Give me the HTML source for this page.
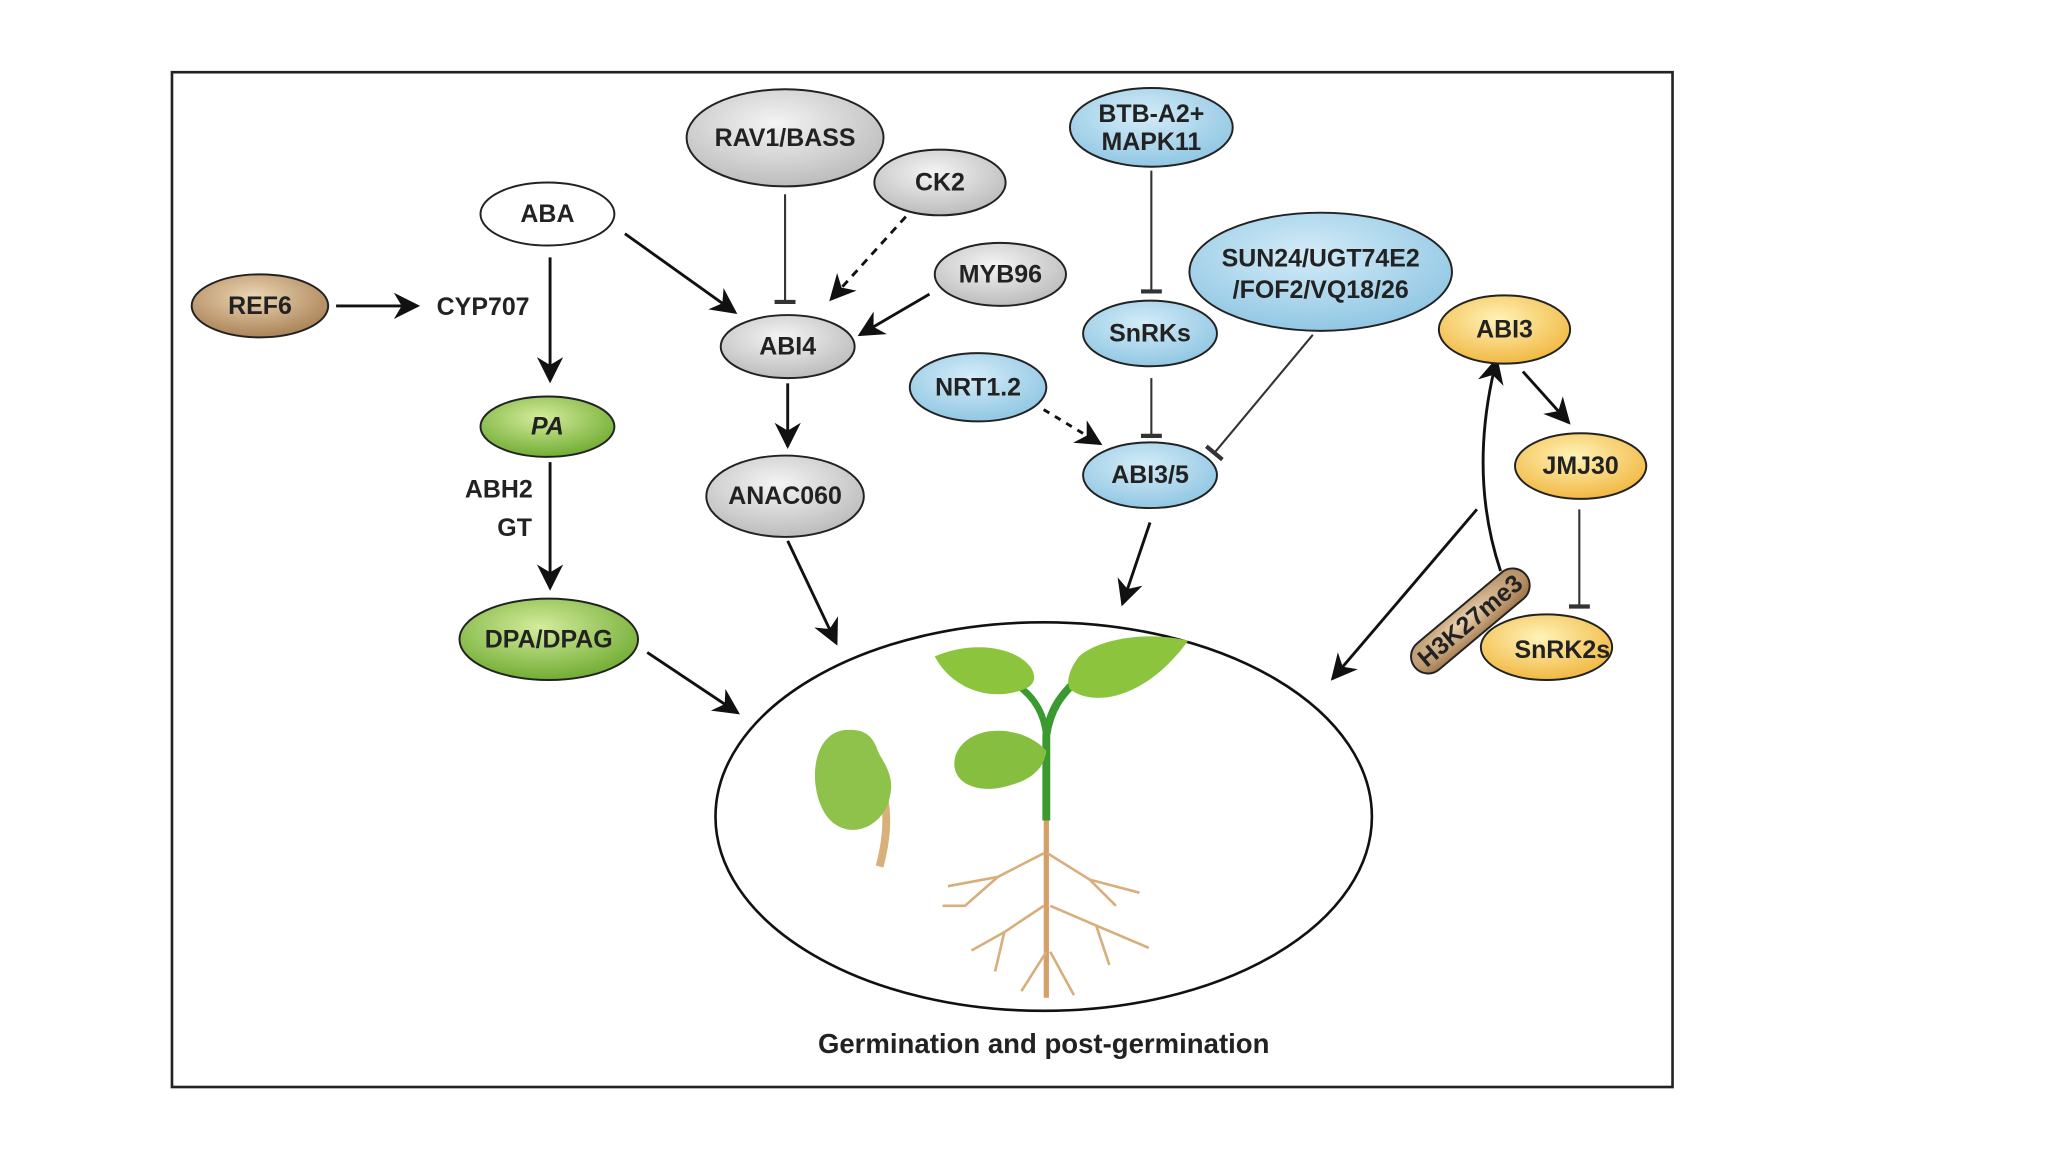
<!DOCTYPE html>
<html><head><meta charset="utf-8"><style>
html,body{margin:0;padding:0;background:#fff;}
svg{display:block;}
text{font-family:"Liberation Sans",sans-serif;font-weight:bold;fill:#222;text-anchor:middle;dominant-baseline:central;}
</style></head><body>
<svg width="2048" height="1152" viewBox="0 0 1560 877.5" preserveAspectRatio="none" xmlns="http://www.w3.org/2000/svg">
<defs>
<radialGradient id="gr" cx="45%" cy="35%" r="70%"><stop offset="0" stop-color="#f4f4f4"/><stop offset="1" stop-color="#b8b8b8"/></radialGradient>
<radialGradient id="bl" cx="45%" cy="35%" r="70%"><stop offset="0" stop-color="#d4ecf8"/><stop offset="1" stop-color="#8cc4e2"/></radialGradient>
<radialGradient id="gn" cx="45%" cy="35%" r="70%"><stop offset="0" stop-color="#d4ec9c"/><stop offset="1" stop-color="#6aa82c"/></radialGradient>
<radialGradient id="yl" cx="45%" cy="35%" r="70%"><stop offset="0" stop-color="#fff3b8"/><stop offset="1" stop-color="#f0b43a"/></radialGradient>
<radialGradient id="br" cx="45%" cy="35%" r="70%"><stop offset="0" stop-color="#ecd6b4"/><stop offset="1" stop-color="#a67c50"/></radialGradient>
<marker id="ah" viewBox="0 0 10 10" refX="9" refY="5" markerWidth="22" markerHeight="20" orient="auto" markerUnits="userSpaceOnUse"><path d="M0,0L10,5L0,10L3,5z" fill="#111"/></marker>
<marker id="tb" viewBox="0 0 4 20" refX="2" refY="10" markerWidth="4" markerHeight="16" orient="auto" markerUnits="userSpaceOnUse"><rect x="0" y="0" width="4" height="20" fill="#333"/></marker>
</defs>
<rect x="131" y="55" width="1143" height="773" fill="#fff" stroke="#222" stroke-width="2"/>

<g stroke="#111" stroke-width="2.2" fill="none">
<line x1="256" y1="233" x2="318" y2="233" marker-end="url(#ah)"/>
<line x1="419" y1="196" x2="419" y2="290" marker-end="url(#ah)"/>
<line x1="476" y1="178" x2="560" y2="238" marker-end="url(#ah)"/>
<line x1="690" y1="165" x2="633" y2="228" stroke-dasharray="6,5" marker-end="url(#ah)"/>
<line x1="708" y1="224" x2="655" y2="255" marker-end="url(#ah)"/>
<line x1="600" y1="292" x2="600" y2="340" marker-end="url(#ah)"/>
<line x1="419" y1="352" x2="419" y2="448" marker-end="url(#ah)"/>
<line x1="600" y1="412" x2="637" y2="490" marker-end="url(#ah)"/>
<line x1="493" y1="497" x2="562" y2="543" marker-end="url(#ah)"/>
<line x1="795" y1="312" x2="838" y2="338" stroke-dasharray="5,5" marker-end="url(#ah)"/>
<line x1="876" y1="398" x2="855" y2="460" marker-end="url(#ah)"/>
<path d="M1143,435 Q1118,360 1140,274" marker-end="url(#ah)"/>
<line x1="1160" y1="283" x2="1195" y2="322" marker-end="url(#ah)"/>
<line x1="1125" y1="388" x2="1015" y2="517" marker-end="url(#ah)"/>
</g>
<g stroke="#333" stroke-width="1.6" fill="none">
<line x1="598" y1="148" x2="598" y2="230" marker-end="url(#tb)"/>
<line x1="877" y1="130" x2="877" y2="222" marker-end="url(#tb)"/>
<line x1="877" y1="288" x2="877" y2="332" marker-end="url(#tb)"/>
<line x1="1000" y1="255" x2="925" y2="345" marker-end="url(#tb)"/>
<line x1="1203" y1="388" x2="1203" y2="462" marker-end="url(#tb)"/>
</g>

<g stroke="#222" stroke-width="1.5">
<ellipse cx="598" cy="105" rx="75" ry="37" fill="url(#gr)"/>
<ellipse cx="716" cy="139" rx="50" ry="25" fill="url(#gr)"/>
<ellipse cx="417" cy="163" rx="51" ry="24" fill="#fff"/>
<ellipse cx="198" cy="233" rx="52" ry="24" fill="url(#br)"/>
<ellipse cx="762" cy="209" rx="50" ry="24" fill="url(#gr)"/>
<ellipse cx="600" cy="264" rx="51" ry="24" fill="url(#gr)"/>
<ellipse cx="417" cy="325" rx="51" ry="23" fill="url(#gn)"/>
<ellipse cx="598" cy="378" rx="60" ry="31" fill="url(#gr)"/>
<ellipse cx="418" cy="487" rx="68" ry="31" fill="url(#gn)"/>
<ellipse cx="877" cy="97" rx="62" ry="30" fill="url(#bl)"/>
<ellipse cx="1006" cy="207" rx="100" ry="45" fill="url(#bl)"/>
<ellipse cx="876" cy="254" rx="51" ry="25" fill="url(#bl)"/>
<ellipse cx="745" cy="295" rx="52" ry="26" fill="url(#bl)"/>
<ellipse cx="876" cy="362" rx="51" ry="25" fill="url(#bl)"/>
<ellipse cx="1146" cy="251" rx="50" ry="26" fill="url(#yl)"/>
<ellipse cx="1204" cy="355" rx="50" ry="25" fill="url(#yl)"/>
<ellipse cx="1178" cy="493" rx="50" ry="25" fill="url(#yl)"/>
<rect x="1065" y="460" width="110" height="26" rx="13" fill="url(#br)" transform="rotate(-40 1120 473)"/>
<ellipse cx="795" cy="622" rx="250" ry="148" fill="#fff" stroke="#111" stroke-width="2"/>
</g>

<!-- plant -->
<g>
<path d="M668,588 C676,610 678,630 670,660" stroke="#d8b07a" stroke-width="6" fill="none"/>
<path d="M648,556 C618,554 614,600 630,622 C646,642 674,630 678,606 C682,588 670,578 668,570 C664,560 658,556 648,556z" fill="#8fc24a"/>
<path d="M797,620 L797,760" stroke="#d4a06a" stroke-width="4" fill="none"/>
<g stroke="#d8ae7c" stroke-width="2" fill="none">
<path d="M795,650 L760,668 L722,675"/><path d="M760,668 L735,690 L718,690"/><path d="M798,650 L830,670 L868,680"/><path d="M830,670 L850,690"/>
<path d="M795,690 L765,710 L740,724"/><path d="M765,710 L758,740"/><path d="M800,690 L835,705 L875,722"/><path d="M835,705 L845,735"/>
<path d="M797,725 L778,755"/><path d="M800,725 L818,758"/>
</g>
<path d="M797,625 L797,560 C800,540 808,530 820,518" stroke="#3a9a30" stroke-width="6" fill="none"/>
<path d="M797,560 C795,540 785,528 772,520" stroke="#3a9a30" stroke-width="5" fill="none"/>
<path d="M780,525 C755,535 725,525 712,500 C740,488 772,492 785,508 C790,516 788,522 780,525z" fill="#8cc43e"/>
<path d="M815,525 C835,540 875,530 905,488 C870,480 835,488 822,500 C814,510 812,520 815,525z" fill="#8cc43e"/>
<path d="M797,572 C780,552 738,550 728,575 C722,595 742,604 762,600 C782,596 795,588 797,572z" fill="#86be40"/>
</g>

<g font-size="19">
<text x="598" y="105">RAV1/BASS</text>
<text x="716" y="139">CK2</text>
<text x="417" y="163">ABA</text>
<text x="198" y="233">REF6</text>
<text x="368" y="234">CYP707</text>
<text x="762" y="209">MYB96</text>
<text x="600" y="264">ABI4</text>
<text x="417" y="325" font-style="italic">PA</text>
<text x="380" y="373">ABH2</text>
<text x="392" y="402">GT</text>
<text x="598" y="378">ANAC060</text>
<text x="418" y="487">DPA/DPAG</text>
<text x="877" y="87">BTB-A2+</text>
<text x="877" y="108">MAPK11</text>
<text x="1006" y="197">SUN24/UGT74E2</text>
<text x="1006" y="221">/FOF2/VQ18/26</text>
<text x="876" y="254">SnRKs</text>
<text x="745" y="295">NRT1.2</text>
<text x="876" y="362">ABI3/5</text>
<text x="1146" y="251">ABI3</text>
<text x="1204" y="355">JMJ30</text>
<text x="1190" y="495">SnRK2s</text>
<text x="1120" y="473" transform="rotate(-40 1120 473)">H3K27me3</text>
<text x="795" y="795" font-size="21">Germination and post-germination</text>
</g>
</svg>
</body></html>
